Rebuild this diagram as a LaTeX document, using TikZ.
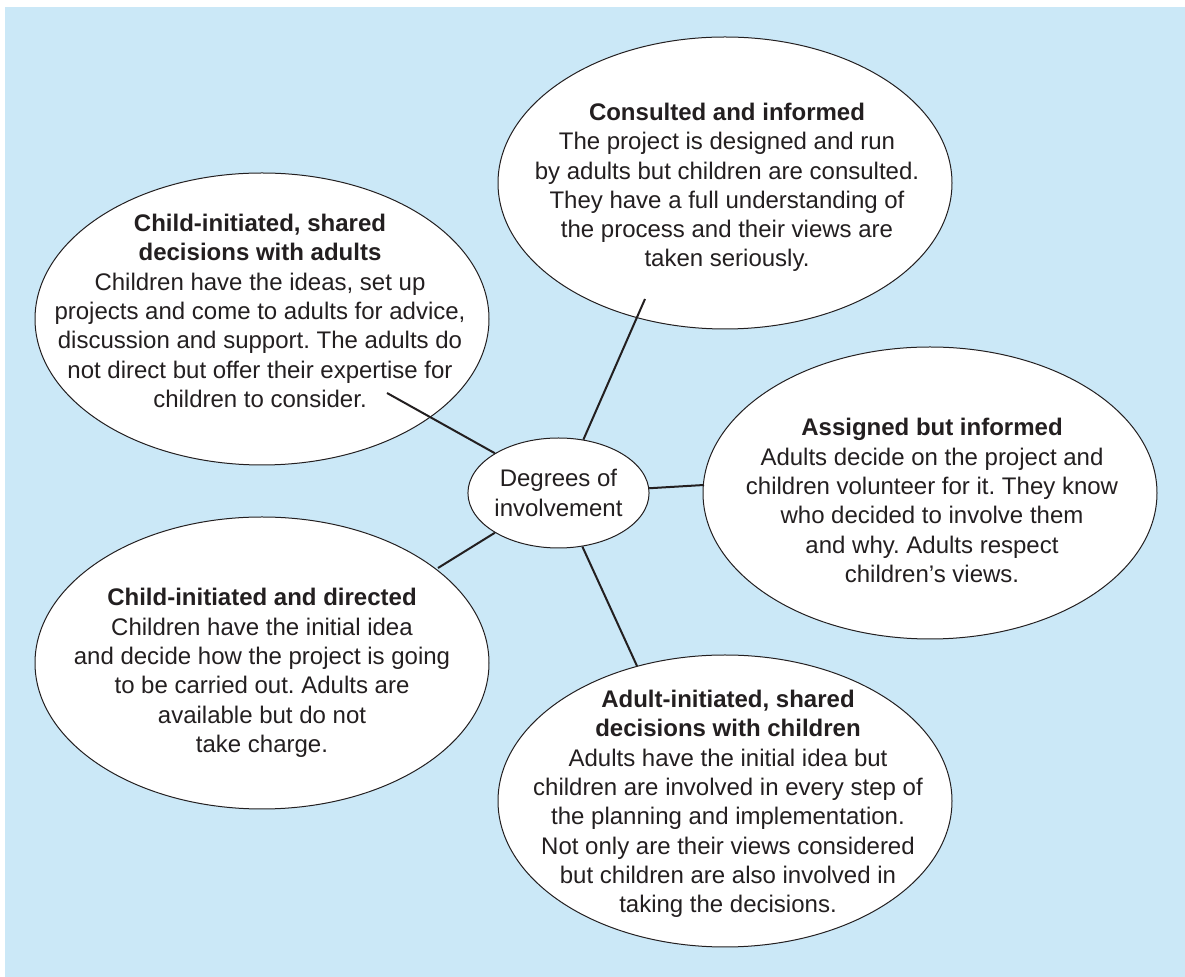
\documentclass[tikz,border=0pt]{standalone}
\usepackage{fontspec}
\setmainfont{Liberation Sans}
\frenchspacing
\usetikzlibrary{shapes.geometric}
\definecolor{bgblue}{RGB}{203,232,247}
\definecolor{ink}{RGB}{35,31,32}
\begin{document}
\begin{tikzpicture}[x=0.5pt,y=-0.5pt,
  bigell/.style={ellipse,draw=ink,line width=0.5pt,fill=white,minimum width=227pt,minimum height=146pt,inner sep=0pt},
  hubell/.style={ellipse,draw=ink,line width=0.5pt,fill=white,minimum width=89.5pt,minimum height=55pt,inner sep=0pt,align=center,text=ink,font=\fontsize{12}{14.65}\selectfont\frenchspacing},
  txt/.style={align=center,inner sep=0pt,text=ink,font=\fontsize{12}{14.65}\selectfont\frenchspacing},
  link/.style={draw=ink,line width=1pt}]
\useasboundingbox (0,0) rectangle (1185,977);
\fill[white] (0,0) rectangle (1185,977);
\fill[bgblue] (5,7) rectangle (1185,977);
% ellipses
\node[bigell] (cons) at (725,183) {};
\node[bigell] (chsh) at (262,319) {};
\node[bigell] (asg) at (930,493) {};
\node[bigell] (chdir) at (262,663) {};
\node[bigell] (adult) at (725,801) {};
\node[hubell] (hub) at (558.5,493) {Degrees of\\involvement};
% free ends of connectors
\coordinate (e1) at (387,393);
\coordinate (e2) at (645,299);
\coordinate (e3) at (704,485);
\coordinate (e4) at (438,568);
\coordinate (e5) at (637,666);
\draw[link] (hub.148) -- (e1);
\draw[link] (hub.65.7) -- (e2);
\draw[link] (hub.3) -- (e3);
\draw[link] (hub.212) -- (e4);
\draw[link] (hub.294) -- (e5);
% texts
\node[txt] (t1) at (727,187.5) {\textbf{Consulted and informed}\\The project is designed and run\\by adults but children are consulted.\\They have a full understanding of\\the process and their views are\\taken seriously.};
\node[txt] (t2) at (260,311) {\textbf{Child-initiated, shared}\\\textbf{decisions with adults}\\Children have the ideas, set up\\projects and come to adults for advice,\\discussion and support. The adults do\\not direct but offer their expertise for\\children to consider.};
\node[txt] (t3) at (932,500.5) {\textbf{Assigned but informed}\\Adults decide on the project and\\children volunteer for it. They know\\who decided to involve them\\and why. Adults respect\\children’s views.};
\node[txt] (t4) at (262,673) {\textbf{Child-initiated and directed}\\Children have the initial idea\\and decide how the project is going\\to be carried out. Adults are\\available but do not\\take charge.};
\node[txt] (t5) at (728,804) {\textbf{Adult-initiated, shared}\\\textbf{decisions with children}\\Adults have the initial idea but\\children are involved in every step of\\the planning and implementation.\\Not only are their views considered\\but children are also involved in\\taking the decisions.};
\end{tikzpicture}
\end{document}
